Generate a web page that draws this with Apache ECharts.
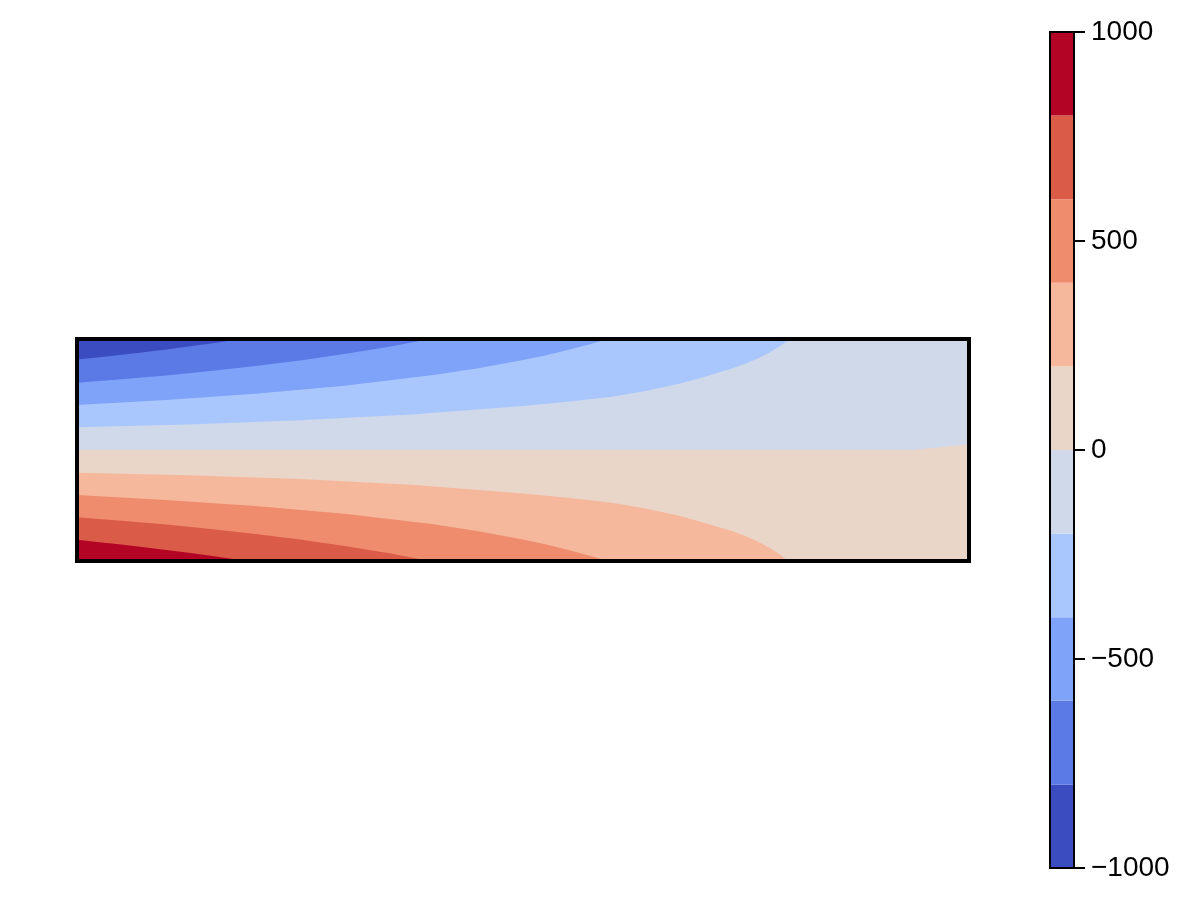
<!DOCTYPE html>
<html>
<head>
<meta charset="utf-8">
<script src="https://cdn.jsdelivr.net/npm/echarts@6/dist/echarts.min.js"></script>
<style>html,body{margin:0;padding:0;background:#fff}#main{width:1200px;height:900px}</style>
</head>
<body>
<div id="main"></div>
<script>
// Contour levels (colour bar)
const levels = [-1000, -800, -600, -400, -200, 0, 200, 400, 600, 800, 1000];
const colorbarTicks = [-1000, -500, 0, 500, 1000];
const bandColors = ['#3b4cc0', '#5b7ae5', '#80a3fa', '#aac7fd', '#cfd9ea',
                    '#ead5c9', '#f6b89c', '#ef8c6e', '#db5b49', '#b40426'];

// Domain of the field
const xDomain = [0, 4];
const yDomain = [-0.5, 0.5];

// Contour lines, [x, y]
const contourZero = [[0, 0], [3.75, 0], [3.825, 0.008], [3.9, 0.016], [4, 0.026]];
const contourM200 = [[0, 0.102], [0.5, 0.115], [1.0, 0.134], [1.5, 0.160], [2.0, 0.198], [2.2, 0.217],
                     [2.4, 0.240], [2.55, 0.266], [2.7, 0.298], [2.8, 0.326], [2.94, 0.368], [3.0, 0.390],
                     [3.05, 0.411], [3.1, 0.436], [3.15, 0.466], [3.19, 0.494], [3.198, 0.5]];
const contourM400 = [[0, 0.2025], [0.4, 0.225], [0.8, 0.253], [1.2, 0.289], [1.6, 0.3375], [1.8, 0.368],
                     [2.0, 0.405], [2.1, 0.426], [2.2, 0.45], [2.3, 0.4765], [2.38, 0.5]];
const contourM600 = [[0, 0.3025], [0.2, 0.3184], [0.4, 0.3361], [0.6, 0.3559], [0.8, 0.3781], [1.0, 0.4033],
                     [1.2, 0.4321], [1.4, 0.4654], [1.5, 0.484], [1.58, 0.5]];
const contourM800 = [[0, 0.4075], [0.1, 0.4179], [0.2, 0.4289], [0.3, 0.4405], [0.4, 0.4528], [0.5, 0.4657],
                     [0.6, 0.4794], [0.7, 0.4939], [0.74, 0.5]];
const contourP200 = [[0, -0.102], [0.5, -0.114], [1.0, -0.131], [1.5, -0.156], [2.0, -0.196], [2.2, -0.215],
                     [2.4, -0.238], [2.55, -0.264], [2.7, -0.296], [2.8, -0.324], [2.94, -0.366], [3.0, -0.389],
                     [3.05, -0.411], [3.1, -0.438], [3.15, -0.469], [3.18, -0.494], [3.188, -0.5]];
const contourP400 = [[0, -0.2025], [0.4, -0.225], [0.8, -0.252], [1.2, -0.287], [1.6, -0.335], [1.8, -0.366],
                     [2.0, -0.403], [2.1, -0.424], [2.2, -0.449], [2.3, -0.476], [2.38, -0.5]];
const contourP600 = [[0, -0.3025], [0.2, -0.3184], [0.4, -0.3361], [0.6, -0.3559], [0.8, -0.3781], [1.0, -0.4033],
                     [1.2, -0.4321], [1.4, -0.4654], [1.5, -0.484], [1.58, -0.5]];
const contourP800 = [[0, -0.4045], [0.1, -0.415], [0.2, -0.426], [0.3, -0.4375], [0.4, -0.45], [0.5, -0.463],
                     [0.6, -0.4766], [0.7, -0.491], [0.74, -0.5]];

// Build filled regions (painted in order)
const X0 = xDomain[0], X1 = xDomain[1], Y0 = yDomain[0], Y1 = yDomain[1];
const regions = [
  { pts: [[X0, Y0], [X1, Y0], [X1, Y1], [X0, Y1]], color: bandColors[5] },
  { pts: contourZero.concat([[X1, Y1], [X0, Y1]]), color: bandColors[4] },
  { pts: contourM200.concat([[X0, Y1]]), color: bandColors[3] },
  { pts: contourM400.concat([[X0, Y1]]), color: bandColors[2] },
  { pts: contourM600.concat([[X0, Y1]]), color: bandColors[1] },
  { pts: contourM800.concat([[X0, Y1]]), color: bandColors[0] },
  { pts: contourP200.concat([[X0, Y0]]), color: bandColors[6] },
  { pts: contourP400.concat([[X0, Y0]]), color: bandColors[7] },
  { pts: contourP600.concat([[X0, Y0]]), color: bandColors[8] },
  { pts: contourP800.concat([[X0, Y0]]), color: bandColors[9] }
];

const colorbarBands = [];
for (let i = 0; i < levels.length - 1; i++) colorbarBands.push([0, levels[i], 1, levels[i + 1], i]);

const fmt = v => (v < 0 ? '\u2212' + Math.abs(v) : String(v));
const frameAxis = (grid, w) => ({
  gridIndex: grid, show: true, z: 10,
  axisLine: { show: true, onZero: false, lineStyle: { color: '#000', width: w, cap: 'square' } },
  axisTick: { show: false }, axisLabel: { show: false }, splitLine: { show: false }
});

const chart = echarts.init(document.getElementById('main'));
chart.setOption({
  animation: false,
  backgroundColor: '#ffffff',
  textStyle: { fontFamily: 'Liberation Sans, Arial, sans-serif' },
  grid: [
    { left: 77, top: 339, width: 892, height: 222 },
    { left: 1050, top: 32, width: 24, height: 836 }
  ],
  xAxis: [
    Object.assign(frameAxis(0, 4), { type: 'value', min: X0, max: X1, position: 'bottom' }),
    Object.assign(frameAxis(0, 4), { type: 'value', min: X0, max: X1, position: 'top' }),
    Object.assign(frameAxis(1, 2), { type: 'value', min: 0, max: 1, position: 'bottom' }),
    Object.assign(frameAxis(1, 2), { type: 'value', min: 0, max: 1, position: 'top' })
  ],
  yAxis: [
    Object.assign(frameAxis(0, 4), { type: 'value', min: Y0, max: Y1, position: 'left' }),
    Object.assign(frameAxis(0, 4), { type: 'value', min: Y0, max: Y1, position: 'right' }),
    Object.assign(frameAxis(1, 2), { type: 'value', min: levels[0], max: levels[levels.length - 1], interval: 500, position: 'left' }),
    Object.assign(frameAxis(1, 2), {
      type: 'value', min: levels[0], max: levels[levels.length - 1], interval: 500, position: 'right',
      axisTick: { show: true, inside: false, length: 11, lineStyle: { color: '#000', width: 2 } },
      axisLabel: { show: true, margin: 17, fontSize: 28, color: '#000', formatter: fmt,
                   showMinLabel: true, showMaxLabel: true,
                   fontFamily: 'Liberation Sans, Arial, sans-serif' }
    })
  ],
  series: [
    {
      type: 'custom', xAxisIndex: 0, yAxisIndex: 0, z: 2, clip: true, silent: true,
      data: regions.map((r, i) => [X0, Y0, i]),
      renderItem: (params, api) => {
        const r = regions[params.dataIndex];
        return { type: 'polygon', shape: { points: r.pts.map(p => api.coord(p)) },
                 style: { fill: r.color, stroke: null } };
      }
    },
    {
      type: 'custom', xAxisIndex: 2, yAxisIndex: 2, z: 2, silent: true,
      data: colorbarBands,
      renderItem: (params, api) => {
        const a = api.coord([api.value(0), api.value(1)]);
        const b = api.coord([api.value(2), api.value(3)]);
        return { type: 'rect',
                 shape: { x: Math.min(a[0], b[0]), y: Math.min(a[1], b[1]),
                          width: Math.abs(b[0] - a[0]), height: Math.abs(b[1] - a[1]) },
                 style: { fill: bandColors[api.value(4)], stroke: null } };
      }
    }
  ]
});
</script>
</body>
</html>
